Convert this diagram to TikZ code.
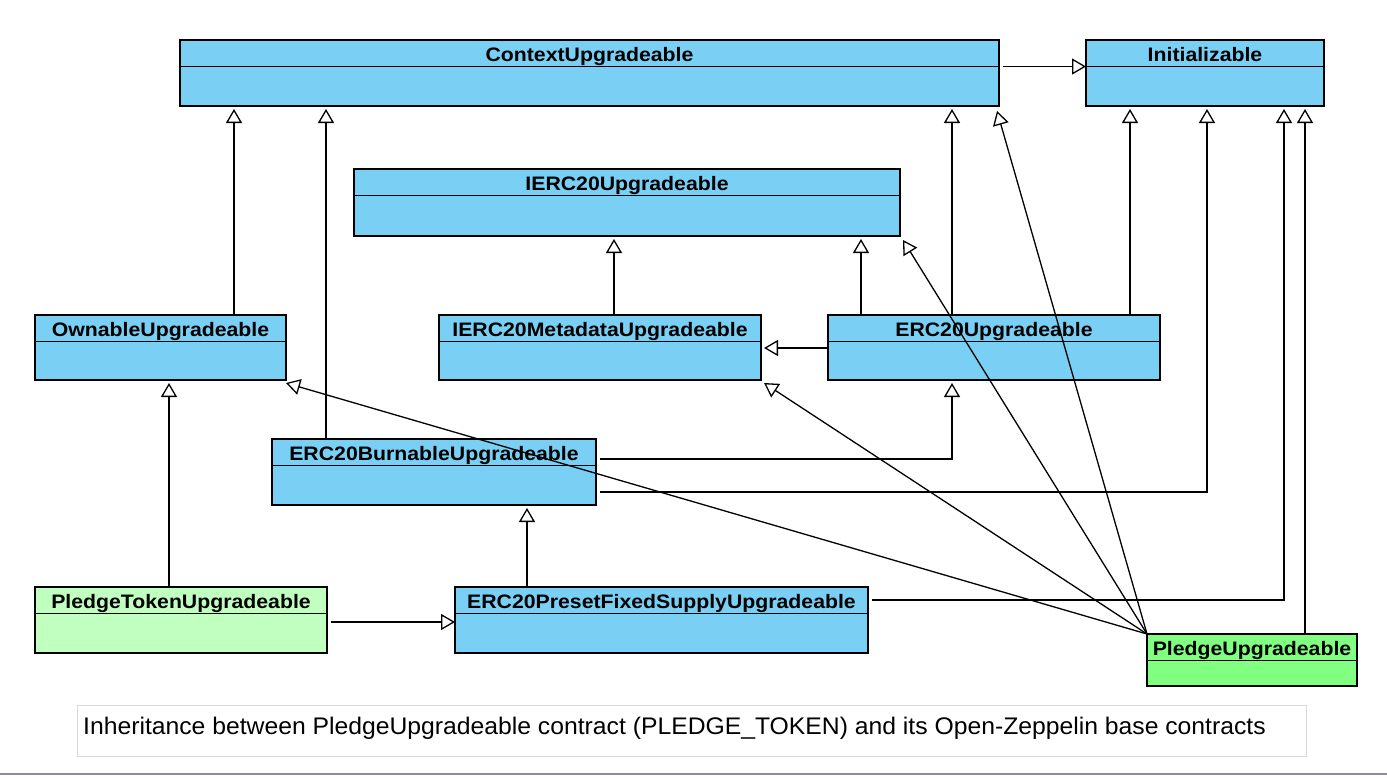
\documentclass[tikz,border=0pt]{standalone}
\usepackage{fontspec}
\setmainfont{Liberation Sans}
\usetikzlibrary{arrows.meta}
\definecolor{clsblue}{RGB}{121,207,244}
\definecolor{lightgreen}{RGB}{192,255,192}
\definecolor{pledgegreen}{RGB}{128,255,128}
\definecolor{capborder}{RGB}{218,218,218}
\definecolor{bottomline}{RGB}{140,140,160}
\newcommand{\umlclass}[7]{%
  \node[classbox, fill=#6, minimum width=#4, minimum height=#5, anchor=north west] (#1) at (#2,#3) {};
  \draw[boxline] ([yshift=-26.5pt]#1.north west) -- ([yshift=-26.5pt]#1.north east);
  \node[lbl, anchor=base] (#1-label) at ([yshift=-21.5pt]#1.north) {\scalebox{1.09}[1]{#7}};
}
\begin{document}
\begin{tikzpicture}[x=1pt,y=-1pt,
  classbox/.style={draw=black, line width=1.4pt, inner sep=0pt, outer sep=0pt, rectangle},
  boxline/.style={draw=black, line width=1.4pt},
  lbl/.style={inner sep=0pt, font=\fontsize{19.5}{22}\selectfont\bfseries},
  inh/.style={draw=black, line width=1.3pt, -{Triangle[open, length=14pt, width=16pt]}},
  caption/.style={draw=capborder, line width=1pt, inner sep=0pt, outer sep=0pt, rectangle, fill=white}]
\useasboundingbox (0,0) rectangle (1387,777);
\fill[white] (0,0) rectangle (1387,777);

% classes
\umlclass{ctx}{180}{40}{819pt}{66pt}{clsblue}{ContextUpgradeable}
\umlclass{init}{1086}{40}{238pt}{66pt}{clsblue}{Initializable}
\umlclass{ierc}{354}{169}{546pt}{67pt}{clsblue}{IERC20Upgradeable}
\umlclass{own}{35}{315}{251pt}{65pt}{clsblue}{OwnableUpgradeable}
\umlclass{meta}{439}{315}{322pt}{65pt}{clsblue}{IERC20MetadataUpgradeable}
\umlclass{erc}{828}{315}{332pt}{65pt}{clsblue}{ERC20Upgradeable}
\umlclass{burn}{272}{439}{324pt}{66pt}{clsblue}{ERC20BurnableUpgradeable}
\umlclass{ptok}{35}{587}{292pt}{66pt}{lightgreen}{PledgeTokenUpgradeable}
\umlclass{preset}{455}{587}{413pt}{66pt}{clsblue}{ERC20PresetFixedSupplyUpgradeable}
\umlclass{pledge}{1147}{634}{210pt}{52pt}{pledgegreen}{PledgeUpgradeable}

% connectors
\draw[inh] ([xshift=4pt,yshift=-26.5pt]ctx.north east) -- ([yshift=-26.5pt]init.north west);
\draw[inh] ([xshift=199pt]own.north west) -- ([xshift=54pt,yshift=-3pt]ctx.south west);
\draw[inh] ([xshift=54pt]burn.north west) -- ([xshift=146pt,yshift=-3pt]ctx.south west);
\draw[inh] ([xshift=124pt]erc.north west) -- ([xshift=772pt,yshift=-3pt]ctx.south west);
\draw[inh] ([xshift=302pt]erc.north west) -- ([xshift=44pt,yshift=-3pt]init.south west);
\draw[inh] ([xshift=33pt]erc.north west) -- ([xshift=507pt,yshift=-3pt]ierc.south west);
\draw[inh] ([xshift=175pt]meta.north west) -- ([xshift=260pt,yshift=-3pt]ierc.south west);
\draw[inh] ([yshift=-33pt]erc.north west) -- ([xshift=3pt,yshift=-33pt]meta.north east);
\draw[inh] (pledge.north west) -- ([xshift=0pt,yshift=-3pt]own.south east);
\draw[inh] (pledge.north west) -- ([xshift=3pt,yshift=-3pt]meta.south east);
\draw[inh] (pledge.north west) -- ([xshift=3pt,yshift=-4pt]ierc.south east);
\draw[inh] (pledge.north west) -- ([xshift=-2pt,yshift=-5pt]ctx.south east);
\draw[inh] ([xshift=4pt,yshift=-20pt]burn.north east) -| ([xshift=124pt,yshift=-3pt]erc.south west);
\draw[inh] ([xshift=4pt,yshift=-53pt]burn.north east) -| ([xshift=121pt,yshift=-3pt]init.south west);
\draw[inh] ([xshift=72pt]preset.north west) -- ([xshift=255pt,yshift=-3pt]burn.south west);
\draw[inh] ([xshift=4pt,yshift=-13pt]preset.north east) -| ([xshift=198pt,yshift=-3pt]init.south west);
\draw[inh] ([xshift=158pt]pledge.north west) -- ([xshift=219pt,yshift=-3pt]init.south west);
\draw[inh] ([xshift=134pt]ptok.north west) -- ([xshift=134pt,yshift=-3pt]own.south west);
\draw[inh] ([xshift=4pt,yshift=-35pt]ptok.north east) -- ([yshift=-35pt]preset.north west);

% caption
\node[caption, minimum width=1229pt, minimum height=51pt, anchor=north west] (capbox) at (77,705) {};
\node[inner sep=0pt, anchor=base west, font=\fontsize{24}{28}\selectfont] (captext) at ([xshift=6pt,yshift=-29pt]capbox.north west)
  {\scalebox{1.03}[1]{Inheritance between PledgeUpgradeable contract (PLEDGE\_TOKEN) and its Open-Zeppelin base contracts}};

% bottom rule
\coordinate (rulel) at (0,774);
\coordinate (ruler) at (1387,774);
\draw[bottomline, line width=2pt] (rulel) -- (ruler);
\end{tikzpicture}
\end{document}
